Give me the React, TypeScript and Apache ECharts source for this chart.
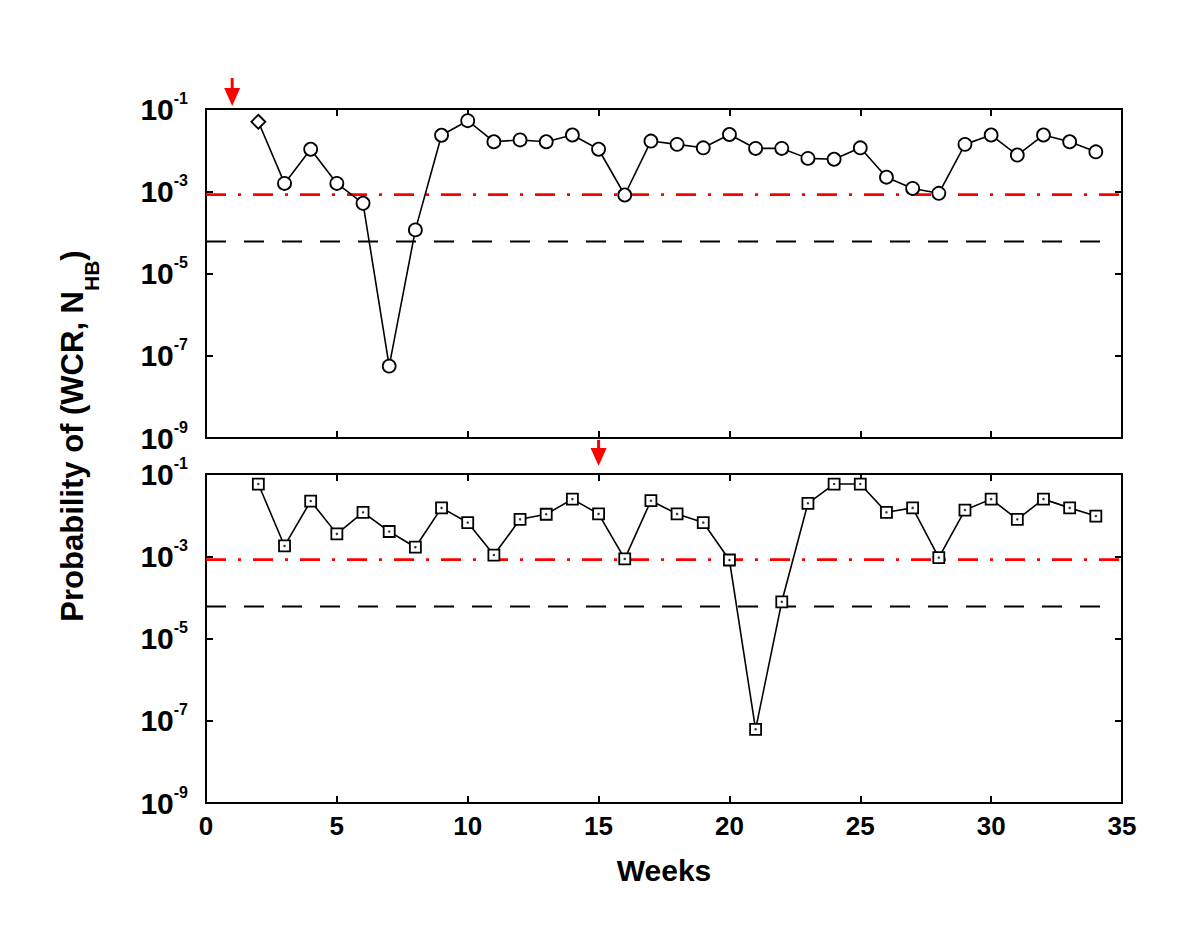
import React, { useEffect, useRef } from "react";
import * as echarts from "echarts";

// ---------------- data ----------------
const WEEKS = [2, 3, 4, 5, 6, 7, 8, 9, 10, 11, 12, 13, 14, 15, 16, 17, 18, 19, 20, 21, 22, 23, 24, 25, 26, 27, 28, 29, 30, 31, 32, 33, 34];

const TOP_VALUES = [
  0.049, 1.55e-3, 0.0105, 1.55e-3, 5.1e-4, 5.6e-8, 1.15e-4, 0.023, 0.052, 0.016,
  0.0177, 0.016, 0.0233, 0.0105, 8.1e-4, 0.0166, 0.0138, 0.0114, 0.024, 0.011,
  0.011, 6.3e-3, 6.0e-3, 0.0114, 2.2e-3, 1.17e-3, 8.9e-4, 0.0138, 0.0233, 7.6e-3,
  0.0233, 0.016, 9.1e-3,
];

const BOTTOM_VALUES = [
  0.057, 1.78e-3, 0.022, 3.5e-3, 0.0117, 4.0e-3, 1.66e-3, 0.015, 6.6e-3, 1.07e-3,
  7.9e-3, 0.0105, 0.0245, 0.0107, 8.6e-4, 0.0224, 0.0107, 6.6e-3, 8.1e-4, 6.2e-8,
  7.8e-5, 0.0194, 0.057, 0.057, 0.0117, 0.015, 9.3e-4, 0.0133, 0.0245, 7.9e-3,
  0.0245, 0.015, 9.5e-3,
];

const RED_THRESHOLD = 8.3e-4;
const BLACK_THRESHOLD = 6e-5;

const Y_MIN = 1e-9;
const Y_MAX = 1e-1;
const Y_TICKS = [1e-9, 1e-7, 1e-5, 1e-3, 1e-1];

const X_MIN = 0;
const X_MAX = 35;
const X_INTERVAL = 5;
const BLACK_LINE_END = 34.3; // dashed line stops a bit before the right frame

const ARROW_WEEKS = [1, 15]; // top panel, bottom panel

const X_TITLE = "Weeks";
const Y_TITLE = "Probability of (WCR, N{sub|HB})";

// ---------------- styling ----------------
const FONT = "'Liberation Sans', Arial, Helvetica, sans-serif";
const GRID_LEFT = 206;
const GRID_WIDTH = 916;
const GRID_HEIGHT = 329;
const GRID_TOPS = [109, 474];

const axisLineStyle = { color: "#000", width: 2 };
const tickStyle = { show: true, inside: true, length: 7, lineStyle: { color: "#000", width: 2 } };

function xAxisDef(gridIndex: number, position: string, showLabel: boolean) {
  return {
    type: "value",
    gridIndex,
    position,
    min: X_MIN,
    max: X_MAX,
    interval: X_INTERVAL,
    axisLine: { show: true, onZero: false, lineStyle: axisLineStyle },
    axisTick: tickStyle,
    axisLabel: {
      show: showLabel,
      fontSize: 26,
      fontWeight: "bold",
      fontFamily: FONT,
      color: "#000",
      margin: 10,
    },
    splitLine: { show: false },
    name: showLabel ? X_TITLE : "",
    nameLocation: "middle",
    nameGap: 52,
    nameTextStyle: { fontSize: 30, fontWeight: "bold", fontFamily: FONT, color: "#000" },
  };
}

function yAxisDef(gridIndex: number, position: string, showLabel: boolean) {
  return {
    type: "log",
    logBase: 10,
    gridIndex,
    position,
    min: Y_MIN,
    max: Y_MAX,
    axisLine: { show: true, onZero: false, lineStyle: axisLineStyle },
    axisTick: { ...tickStyle, customValues: Y_TICKS },
    minorTick: { show: false },
    axisLabel: {
      show: showLabel,
      customValues: Y_TICKS,
      margin: 18,
      formatter: (v: number) => `{b|10}{s|${Math.round(Math.log10(v))}}`,
      rich: {
        b: { fontSize: 30, lineHeight: 38, fontWeight: "bold", fontFamily: FONT, color: "#000" },
        s: { fontSize: 16, lineHeight: 16, fontWeight: "bold", fontFamily: FONT, color: "#000", verticalAlign: "top" },
      },
    },
    splitLine: { show: false },
  };
}

function thresholdSeries(xAxisIndex: number, yAxisIndex: number) {
  return [
    {
      type: "line",
      xAxisIndex,
      yAxisIndex,
      data: [
        [X_MIN, RED_THRESHOLD],
        [X_MAX, RED_THRESHOLD],
      ],
      symbol: "none",
      silent: true,
      lineStyle: { color: "#ff0000", width: 2.8, type: [20, 12, 3, 12] },
      z: 2,
    },
    {
      type: "line",
      xAxisIndex,
      yAxisIndex,
      data: [
        [X_MIN, BLACK_THRESHOLD],
        [BLACK_LINE_END, BLACK_THRESHOLD],
      ],
      symbol: "none",
      silent: true,
      lineStyle: { color: "#000", width: 2, type: [20, 18] },
      z: 2,
    },
  ];
}

export default function App() {
  const ref = useRef<HTMLDivElement>(null);

  useEffect(() => {
    if (!ref.current) return;
    const chart = echarts.init(ref.current, undefined, { renderer: "svg" });

    const topData = WEEKS.map((w, i) => [w, TOP_VALUES[i]]);
    const bottomData = WEEKS.map((w, i) => [w, BOTTOM_VALUES[i]]);

    chart.setOption({
      animation: false,
      backgroundColor: "#fff",
      grid: GRID_TOPS.map((top) => ({
        left: GRID_LEFT,
        top,
        width: GRID_WIDTH,
        height: GRID_HEIGHT,
        containLabel: false,
      })),
      xAxis: [
        xAxisDef(0, "bottom", false),
        xAxisDef(0, "top", false),
        xAxisDef(1, "bottom", true),
        xAxisDef(1, "top", false),
      ],
      yAxis: [
        yAxisDef(0, "left", true),
        yAxisDef(0, "right", false),
        yAxisDef(1, "left", true),
        yAxisDef(1, "right", false),
      ],
      series: [
        ...thresholdSeries(0, 0),
        ...thresholdSeries(2, 2),
        {
          type: "line",
          xAxisIndex: 0,
          yAxisIndex: 0,
          data: topData,
          symbol: (_v: any, p: any) => (p.dataIndex === 0 ? "diamond" : "circle"),
          symbolSize: (_v: any, p: any) => (p.dataIndex === 0 ? 14 : 13),
          showAllSymbol: true,
          lineStyle: { color: "#000", width: 1.6 },
          itemStyle: { color: "#fff", borderColor: "#000", borderWidth: 1.8 },
          z: 3,
        },
        {
          type: "line",
          xAxisIndex: 2,
          yAxisIndex: 2,
          data: bottomData,
          symbol: "rect",
          symbolSize: 11,
          showAllSymbol: true,
          lineStyle: { color: "#000", width: 1.6 },
          itemStyle: { color: "#fff", borderColor: "#000", borderWidth: 1.8 },
          z: 3,
        },
        {
          type: "scatter",
          xAxisIndex: 2,
          yAxisIndex: 2,
          data: bottomData,
          symbol: "circle",
          symbolSize: 2.5,
          itemStyle: { color: "#000" },
          z: 4,
          silent: true,
        },
      ],
    });

    const xa = chart.convertToPixel({ xAxisIndex: 0 }, ARROW_WEEKS[0]) as number;
    const xb = chart.convertToPixel({ xAxisIndex: 2 }, ARROW_WEEKS[1]) as number;

    const arrow = (x: number, y0: number, yTip: number) => [
      {
        type: "line",
        shape: { x1: x, y1: y0, x2: x, y2: yTip - 14 },
        style: { stroke: "#ff0000", lineWidth: 3 },
        silent: true,
      },
      {
        type: "polygon",
        shape: { points: [[x - 8, yTip - 18], [x + 8, yTip - 18], [x, yTip]] },
        style: { fill: "#ff0000" },
        silent: true,
      },
    ];

    chart.setOption({
      graphic: [
        ...arrow(xa, 78, 106),
        ...arrow(xb, 440, 466),
        {
          type: "text",
          x: 72,
          y: 436,
          rotation: Math.PI / 2,
          silent: true,
          style: {
            text: Y_TITLE,
            fontSize: 31,
            fontWeight: "bold",
            fontFamily: FONT,
            fill: "#000",
            lineHeight: 60,
            align: "center",
            verticalAlign: "middle",
            rich: {
              sub: {
                fontSize: 21,
                lineHeight: 21,
                fontWeight: "bold",
                fontFamily: FONT,
                fill: "#000",
                verticalAlign: "bottom",
              },
            },
          },
        },
      ],
    });

    return () => chart.dispose();
  }, []);

  return (
    <div
      ref={ref}
      style={{ position: "fixed", left: 0, top: 0, width: 1200, height: 937, background: "#fff" }}
    />
  );
}
